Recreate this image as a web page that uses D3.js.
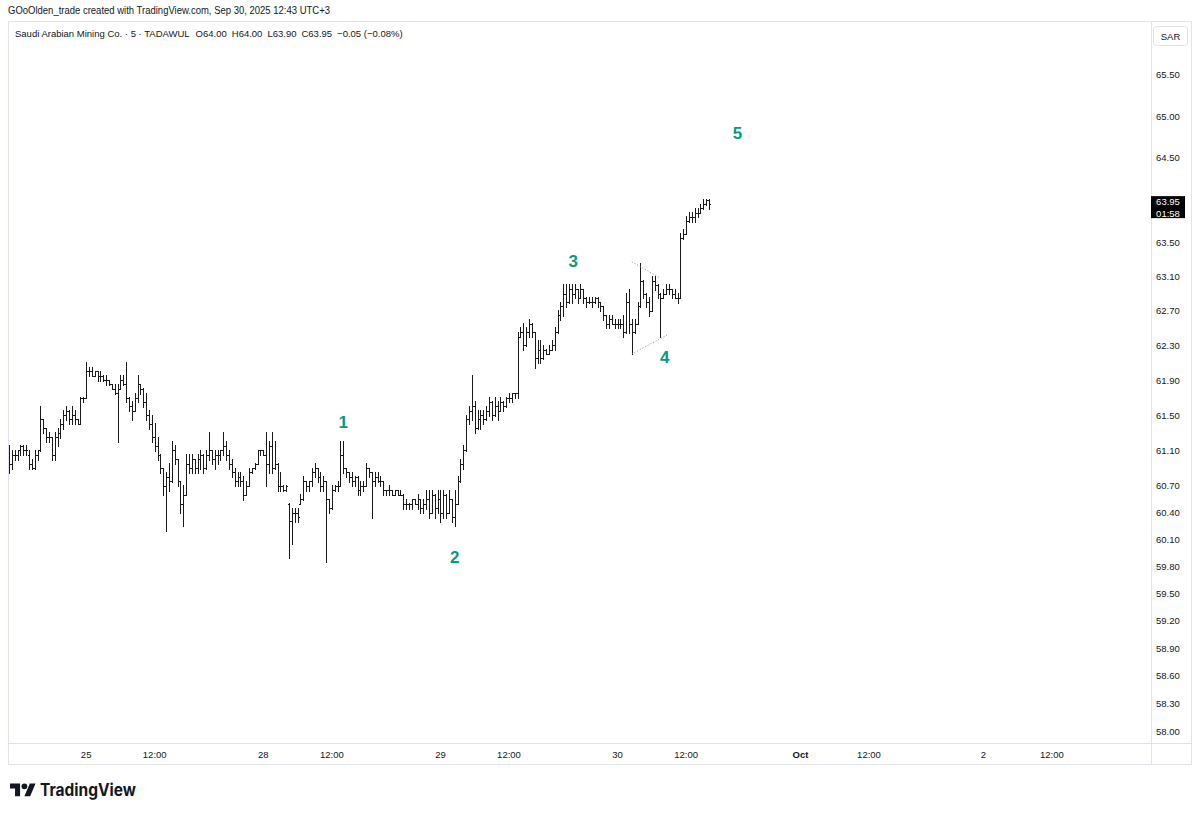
<!DOCTYPE html>
<html>
<head>
<meta charset="utf-8">
<script src="https://cdn.jsdelivr.net/npm/d3@7"></script>
<style>
body { margin: 0; background: #fff; }
svg { display: block; font-family: "Liberation Sans", Arial, sans-serif; }
</style>
</head>
<body>
<script>
// 5 minute bars, Sep 24 (afternoon) .. Sep 30 12:40
var opens = [
  61.10,60.95,61.05,61.05,61.10,61.15,61.10,61.05,60.95,60.90,61.05,61.10,61.45,61.35,61.25,61.25,61.05,61.25,61.30,61.40,61.50,61.55,61.45,61.50,61.45,61.40,61.70,
  61.70,62.00,62.00,61.95,62.00,61.95,61.95,61.90,61.90,61.85,61.80,61.75,61.80,61.90,61.85,61.70,61.60,61.55,61.70,61.85,61.80,61.65,61.50,61.40,61.25,61.15,61.05,60.90,60.70,60.80,60.75,61.10,61.00,60.75,60.50,60.60,60.95,60.90,61.00,60.90,61.00,61.05,60.90,61.05,61.10,61.00,61.05,61.05,61.10,61.15,61.05,60.95,60.85,60.75,60.80,60.75,60.60,60.70,60.85,60.90,60.95,61.10,
  61.10,61.05,60.95,61.15,60.90,60.95,60.70,60.70,60.65,60.50,60.30,60.40,60.40,60.50,60.55,60.75,60.70,60.75,60.85,60.90,60.80,60.70,60.75,60.55,60.45,60.65,60.70,60.70,61.05,60.90,60.85,60.80,60.75,60.80,60.65,60.70,60.70,60.90,60.85,60.75,60.80,60.75,60.75,60.65,60.65,60.65,60.60,60.65,60.60,60.60,60.50,60.50,60.50,60.55,60.50,60.55,60.45,60.50,60.55,60.40,60.60,60.45,
  60.55,60.40,60.60,60.40,60.55,60.35,60.50,60.75,60.95,61.10,61.45,61.55,61.60,61.35,61.45,61.50,61.45,61.55,61.65,61.50,61.60,61.55,61.65,61.60,61.70,61.70,61.75,61.75,62.40,62.45,62.30,62.45,62.55,62.45,62.15,62.25,62.15,62.25,62.20,62.25,62.30,62.45,62.65,62.75,62.90,62.80,62.95,62.90,62.95,62.85,62.95,62.85,62.80,62.80,62.80,62.85,62.80,62.75,62.65,62.55,62.60,62.55,
  62.55,62.55,62.55,62.45,62.80,62.55,62.45,62.55,62.75,63.05,62.90,62.80,62.70,63.05,63.00,62.90,62.85,62.90,62.95,62.95,62.90,62.85,62.85,63.55,63.60,63.75,63.80,63.80,63.85,63.85,63.90,63.95,64.00
];
var highs = [
  61.15,61.10,61.10,61.10,61.15,61.15,61.15,61.10,61.00,61.10,61.10,61.60,61.45,61.35,61.30,61.25,61.30,61.35,61.45,61.55,61.60,61.55,61.60,61.55,61.45,61.70,61.70,
  62.10,62.05,62.05,62.00,62.00,62.00,61.95,61.95,61.90,61.85,61.85,61.85,61.95,61.95,62.10,61.70,61.65,61.75,61.95,61.85,61.80,61.75,61.55,61.50,61.40,61.25,61.05,60.90,60.85,60.95,61.20,61.15,61.00,60.75,60.70,61.05,61.05,61.05,61.00,61.05,61.10,61.05,61.10,61.30,61.10,61.10,61.10,61.10,61.30,61.20,61.10,61.00,60.90,60.85,60.85,60.80,60.75,60.90,60.90,60.95,61.10,61.10,
  61.10,61.30,61.20,61.30,61.20,60.95,60.85,60.70,60.70,60.50,60.45,60.45,60.45,60.60,60.80,60.75,60.75,60.90,60.95,60.90,60.85,60.80,60.75,60.55,60.70,60.70,60.75,61.20,61.20,60.90,60.85,60.85,60.80,60.80,60.75,60.75,60.95,60.90,60.85,60.85,60.85,60.80,60.75,60.65,60.70,60.65,60.65,60.65,60.65,60.60,60.55,60.50,60.55,60.55,60.60,60.55,60.55,60.65,60.65,60.65,60.60,60.65,
  60.65,60.65,60.60,60.65,60.55,60.65,60.80,61.00,61.15,61.50,61.60,61.95,61.65,61.55,61.55,61.55,61.60,61.70,61.65,61.70,61.65,61.70,61.65,61.70,61.75,61.75,61.75,62.45,62.50,62.55,62.50,62.60,62.55,62.45,62.35,62.35,62.30,62.25,62.30,62.35,62.50,62.70,62.80,63.00,63.00,63.00,63.00,63.00,62.95,63.00,62.95,62.85,62.85,62.85,62.85,62.85,62.80,62.75,62.65,62.65,62.65,62.60,
  62.60,62.60,62.65,62.90,62.95,62.60,62.60,62.80,63.25,63.05,62.90,62.85,63.10,63.10,63.00,62.90,62.95,63.00,63.00,62.95,62.95,62.90,63.60,63.65,63.80,63.85,63.85,63.90,63.90,63.95,64.00,64.00,64.00
];
var lows = [
  60.85,60.90,61.00,61.00,61.05,61.05,61.05,60.90,60.90,60.90,61.00,61.10,61.30,61.20,61.20,61.00,61.00,61.15,61.25,61.35,61.45,61.40,61.40,61.40,61.40,61.40,61.65,
  61.70,61.95,61.95,61.95,61.90,61.90,61.90,61.85,61.85,61.80,61.75,61.20,61.80,61.85,61.65,61.55,61.45,61.55,61.65,61.75,61.60,61.45,61.35,61.20,61.10,61.00,60.85,60.60,60.20,60.65,60.75,60.95,60.70,60.40,60.25,60.60,60.85,60.85,60.85,60.85,60.90,60.85,60.90,61.00,60.95,60.90,60.95,61.00,61.05,61.00,60.90,60.80,60.70,60.70,60.70,60.55,60.60,60.70,60.85,60.90,60.95,61.05,
  61.05,60.70,60.85,60.85,60.90,60.65,60.65,60.65,60.65,59.90,60.05,60.30,60.30,60.50,60.55,60.65,60.65,60.70,60.80,60.75,60.65,60.65,59.85,60.40,60.45,60.65,60.65,60.70,60.85,60.80,60.75,60.70,60.70,60.60,60.60,60.65,60.70,60.80,60.35,60.70,60.75,60.70,60.60,60.60,60.60,60.60,60.60,60.60,60.60,60.45,60.45,60.45,60.45,60.50,60.45,60.40,60.40,60.45,60.35,60.40,60.35,60.40,
  60.30,60.35,60.35,60.40,60.30,60.25,60.50,60.75,60.90,61.10,61.40,61.45,61.30,61.35,61.35,61.40,61.45,61.50,61.45,61.50,61.45,61.55,61.55,61.60,61.65,61.65,61.70,61.70,62.40,62.25,62.30,62.40,62.40,62.05,62.10,62.10,62.15,62.20,62.20,62.25,62.25,62.45,62.60,62.65,62.75,62.80,62.80,62.85,62.80,62.85,62.80,62.75,62.80,62.75,62.80,62.75,62.70,62.60,62.50,62.50,62.55,62.50,
  62.50,62.50,62.40,62.45,62.45,62.20,62.45,62.55,62.75,62.85,62.75,62.65,62.70,62.95,62.85,62.40,62.85,62.90,62.90,62.85,62.85,62.80,62.85,63.55,63.60,63.75,63.75,63.75,63.80,63.85,63.90,63.95,63.90
];
var closes = [
  60.95,61.05,61.05,61.10,61.15,61.10,61.10,60.95,60.90,61.05,61.10,61.45,61.35,61.25,61.25,61.05,61.25,61.30,61.40,61.50,61.55,61.45,61.50,61.45,61.40,61.70,61.70,
  62.00,62.00,61.95,62.00,61.95,61.95,61.90,61.90,61.85,61.80,61.75,61.80,61.90,61.85,61.70,61.60,61.55,61.70,61.85,61.80,61.65,61.50,61.40,61.25,61.15,61.05,60.90,60.70,60.80,60.75,61.10,61.00,60.75,60.50,60.60,60.95,60.90,61.00,60.90,61.00,61.05,60.90,61.05,61.10,61.00,61.05,61.05,61.10,61.15,61.05,60.95,60.85,60.75,60.80,60.75,60.60,60.70,60.85,60.90,60.95,61.10,61.10,
  61.05,60.95,61.15,60.90,60.95,60.70,60.70,60.65,60.70,60.30,60.40,60.40,60.35,60.55,60.75,60.70,60.75,60.85,60.90,60.80,60.70,60.75,60.55,60.45,60.65,60.70,60.70,61.05,60.90,60.85,60.80,60.75,60.80,60.65,60.70,60.70,60.90,60.85,60.75,60.80,60.75,60.75,60.65,60.65,60.65,60.60,60.65,60.60,60.60,60.50,60.50,60.50,60.55,60.50,60.55,60.45,60.50,60.55,60.40,60.60,60.45,60.55,
  60.40,60.60,60.40,60.55,60.35,60.50,60.75,60.95,61.10,61.45,61.55,61.60,61.35,61.45,61.50,61.45,61.55,61.65,61.50,61.60,61.55,61.65,61.60,61.70,61.70,61.75,61.75,62.40,62.45,62.30,62.45,62.55,62.45,62.15,62.25,62.15,62.25,62.20,62.25,62.30,62.45,62.65,62.75,62.90,62.80,62.95,62.90,62.95,62.85,62.95,62.85,62.80,62.80,62.80,62.85,62.80,62.75,62.65,62.55,62.60,62.55,62.55,
  62.55,62.55,62.45,62.80,62.55,62.45,62.55,62.75,63.05,62.90,62.80,62.70,63.05,63.00,62.90,62.85,62.90,62.95,62.95,62.90,62.85,62.85,63.55,63.60,63.75,63.80,63.80,63.85,63.85,63.90,63.95,64.00,63.95
];

// price axis (log scale) and time axis
var priceTicks = [58.00,58.30,58.60,58.90,59.20,59.50,59.80,60.10,60.40,60.70,61.10,61.50,61.90,62.30,62.70,63.10,63.50,64.00,64.50,65.00,65.50];
var timeTickBars = [27,51,89,113,151,175,213,237,277,301,341,365];
var timeTickLabels = ["25","12:00","28","12:00","29","12:00","30","12:00","Oct","12:00","2","12:00"];

// elliott wave labels
var waveBars = [117, 156, 197.5, 229.5, 255];
var wavePrices = [61.42, 59.90, 63.28, 62.16, 64.80];
var waveTexts = ["1","2","3","4","5"];

// dotted triangle drawn around wave 4: [bar, price]
var triUpper = [[218, 63.27], [228, 63.08]];
var triLower = [[218, 62.20], [231, 62.43]];

var W = 1200, H = 814;
var svg = d3.select("body").append("svg").attr("width", W).attr("height", H);

var frameL = 8, frameT = 21, frameR = 1192, axisX = 1151, axisY = 743, frameB = 765;
var ink = "#131722", border = "#e0e3eb";

var x = d3.scaleLinear().domain([0, opens.length - 1]).range([9, 709]);
var y = d3.scaleLog().domain([58, 65.5]).range([731.5, 74.8]);

// header
svg.append("text").attr("x", 8).attr("y", 14).attr("font-size", 10.5).attr("fill", ink)
  .attr("textLength", 322).attr("lengthAdjust", "spacingAndGlyphs")
  .text("GOoOlden_trade created with TradingView.com, Sep 30, 2025 12:43 UTC+3");

// frame
svg.append("rect").attr("x", frameL + 0.5).attr("y", frameT + 0.5)
  .attr("width", frameR - frameL - 1).attr("height", frameB - frameT - 1)
  .attr("fill", "none").attr("stroke", border);
svg.append("line").attr("x1", axisX + 0.5).attr("x2", axisX + 0.5).attr("y1", frameT).attr("y2", frameB)
  .attr("stroke", border);
svg.append("line").attr("x1", frameL).attr("x2", frameR).attr("y1", axisY + 0.5).attr("y2", axisY + 0.5)
  .attr("stroke", border);

// legend line, laid out left to right
var n = closes.length - 1;
var chg = closes[n] - closes[n - 1];
var pct = chg / closes[n - 1] * 100;
var fmt = d3.format(".2f");
var signed = function(v) { return (v < 0 ? "\u2212" : "+") + fmt(Math.abs(v)); };
var legend = [
  "Saudi Arabian Mining Co. \u00b7 5 \u00b7 TADAWUL",
  "O" + fmt(opens[n]),
  "H" + fmt(highs[n]),
  "L" + fmt(lows[n]),
  "C" + fmt(closes[n]),
  signed(chg) + " (" + signed(pct) + "%)"
];
var lx = 15;
legend.forEach(function(t, k) {
  var el = svg.append("text").attr("x", lx).attr("y", 37)
    .attr("font-size", 9.5).attr("fill", ink).text(t);
  lx += el.node().getComputedTextLength() + (k === 0 ? 6 : 5);
});

// SAR box
svg.append("rect").attr("x", 1153.5).attr("y", 26.5).attr("width", 34).attr("height", 19).attr("rx", 3)
  .attr("fill", "#fff").attr("stroke", border);
svg.append("text").attr("x", 1170.5).attr("y", 39.5).attr("text-anchor", "middle")
  .attr("font-size", 9.5).attr("fill", ink).text("SAR");

// clip for plot
svg.append("clipPath").attr("id", "plot").append("rect")
  .attr("x", frameL + 1).attr("y", frameT + 1).attr("width", axisX - frameL - 1).attr("height", axisY - frameT - 1);
var plot = svg.append("g").attr("clip-path", "url(#plot)");

// OHLC bars
var idx = d3.range(opens.length);
plot.append("g").selectAll("path").data(idx).enter().append("path")
  .attr("d", function(i) {
    var xi = Math.round(x(i)) + 0.5;
    var yh = Math.floor(y(highs[i])), yl = Math.ceil(y(lows[i])) + 1;
    var yo = Math.round(y(opens[i])) + 0.5, yc = Math.round(y(closes[i])) + 0.5;
    return "M" + xi + "," + yh + "V" + yl +
      "M" + (xi - 1.5) + "," + yo + "H" + xi +
      "M" + xi + "," + yc + "H" + (xi + 1.5);
  })
  .attr("fill", "none").attr("stroke", "#1a1a1a").attr("stroke-width", 1)
  .attr("shape-rendering", "crispEdges");

// triangle drawing
[triUpper, triLower].forEach(function(seg) {
  plot.append("line")
    .attr("x1", x(seg[0][0])).attr("y1", y(seg[0][1]))
    .attr("x2", x(seg[1][0])).attr("y2", y(seg[1][1]))
    .attr("stroke", "#8a8a8a").attr("stroke-width", 1).attr("stroke-dasharray", "1,2");
});

// wave labels
plot.selectAll("text.wave").data(waveTexts).enter().append("text")
  .attr("class", "wave")
  .attr("x", function(d, i) { return x(waveBars[i]); })
  .attr("y", function(d, i) { return y(wavePrices[i]) + 6; })
  .attr("text-anchor", "middle").attr("font-size", 17).attr("font-weight", "bold")
  .attr("fill", "#089981").text(function(d) { return d; });

// price axis labels
svg.append("g").selectAll("text").data(priceTicks).enter().append("text")
  .attr("x", 1156).attr("y", function(d) { return y(d) + 3.5; })
  .attr("font-size", 9.5).attr("fill", ink)
  .text(function(d) { return fmt(d); });

// last price label
var yLast = y(closes[n]);
svg.append("rect").attr("x", axisX).attr("y", yLast - 8).attr("width", 34).attr("height", 22).attr("fill", "#000");
svg.append("text").attr("x", axisX + 17).attr("y", yLast + 1).attr("text-anchor", "middle")
  .attr("font-size", 9.5).attr("fill", "#fff").text(fmt(closes[n]));
svg.append("text").attr("x", axisX + 17).attr("y", yLast + 12.5).attr("text-anchor", "middle")
  .attr("font-size", 9.5).attr("fill", "#fff").text("01:58");

// time axis labels
svg.append("g").selectAll("text").data(timeTickBars).enter().append("text")
  .attr("x", function(d) { return x(d); }).attr("y", 757.5)
  .attr("text-anchor", "middle").attr("font-size", 9.5).attr("fill", ink)
  .attr("font-weight", function(d, i) { return timeTickLabels[i] === "Oct" ? "bold" : "normal"; })
  .text(function(d, i) { return timeTickLabels[i]; });

// TradingView logo
var logo = svg.append("g").attr("transform", "translate(10,780.5) scale(0.72)").attr("fill", ink);
logo.append("path").attr("d", "M14 22H7V11H0V4h14v18zM28 22h-8l7.5-18h8L28 22z");
logo.append("circle").attr("cx", 20).attr("cy", 8).attr("r", 4);
svg.append("text").attr("x", 40).attr("y", 796).attr("font-family", "Inter, 'Liberation Sans', sans-serif")
  .attr("font-weight", 700).attr("font-size", 17).attr("fill", ink)
  .attr("textLength", 96).attr("lengthAdjust", "spacingAndGlyphs").text("TradingView");
</script>
</body>
</html>
